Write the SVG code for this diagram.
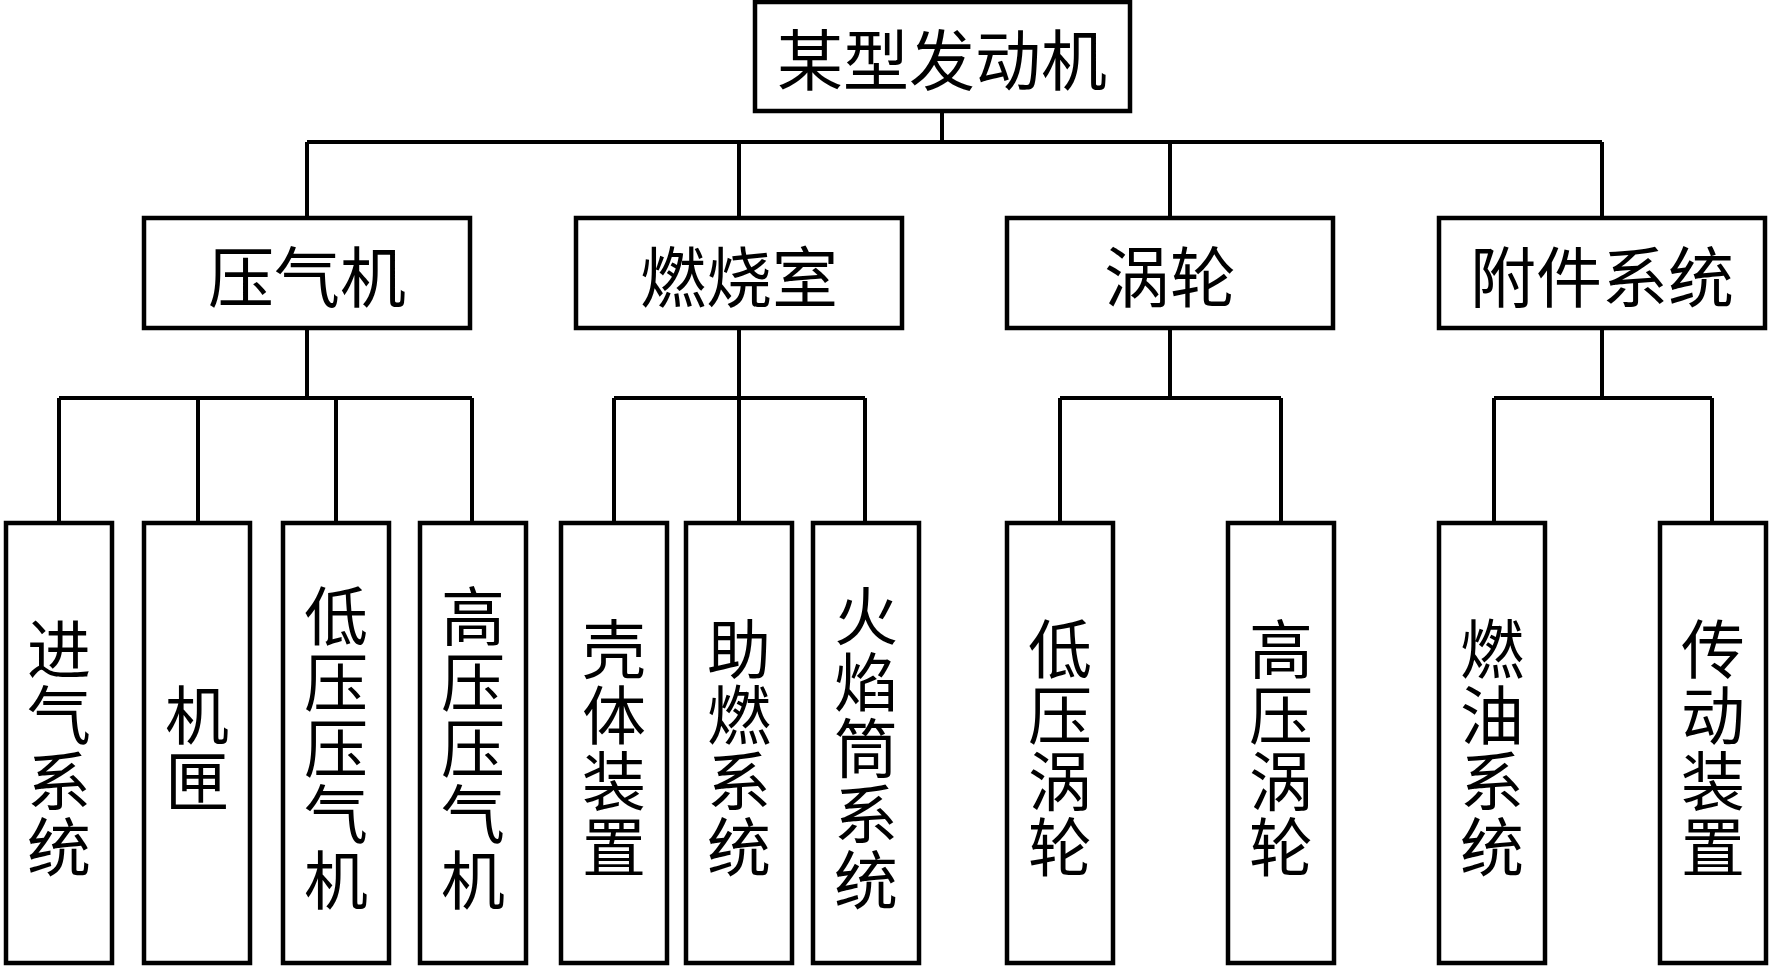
<svg xmlns="http://www.w3.org/2000/svg" width="1772" height="968" viewBox="0 0 1772 968">
<style>
.box{fill:#fff;stroke:#000;stroke-width:4.5}
.ln{fill:none;stroke:#000;stroke-width:4}
.t{font-family:"Noto Sans CJK SC","Noto Sans CJK JP",sans-serif;font-size:66px;fill:#000;text-anchor:middle;dominant-baseline:central}
.v{font-family:"Noto Sans CJK SC","Noto Sans CJK JP",sans-serif;font-size:64px;fill:#000;text-anchor:middle;writing-mode:vertical-rl;letter-spacing:2px}
</style>
<rect width="1772" height="968" fill="#fff"/>
<g id="connectors">
<path class="ln" d="M942 111V142M307 142H1602M307 142V218M739 142V218M1170 142V218M1602 142V218"/>
<path class="ln" d="M307 328V398M59 398H472M59 398V523M198 398V523M336 398V523M472 398V523"/>
<path class="ln" d="M739 328V398M614 398H865M614 398V523M739 398V523M865 398V523"/>
<path class="ln" d="M1170 328V398M1060 398H1281M1060 398V523M1281 398V523"/>
<path class="ln" d="M1602 328V398M1494 398H1712M1494 398V523M1712 398V523"/>
</g>
<g id="root"><rect class="box" x="755" y="2" width="375" height="109"/><text class="t" x="942" y="56">某型发动机</text></g>
<g id="n_compressor"><rect class="box" x="144" y="218" width="326" height="110"/><text class="t" x="307" y="273">压气机</text></g>
<g id="n_combustor"><rect class="box" x="576" y="218" width="326" height="110"/><text class="t" x="739" y="273">燃烧室</text></g>
<g id="n_turbine"><rect class="box" x="1007" y="218" width="326" height="110"/><text class="t" x="1170" y="273">涡轮</text></g>
<g id="n_accessory"><rect class="box" x="1439" y="218" width="326" height="110"/><text class="t" x="1602" y="273">附件系统</text></g>
<g id="l_intake"><rect class="box" x="6" y="523" width="106" height="440"/><text class="v" x="59" y="749">进气系统</text></g>
<g id="l_casing"><rect class="box" x="144" y="523" width="106" height="440"/><text class="v" x="197" y="749">机匣</text></g>
<g id="l_lpc"><rect class="box" x="283" y="523" width="106" height="440"/><text class="v" x="336" y="749">低压压气机</text></g>
<g id="l_hpc"><rect class="box" x="420" y="523" width="106" height="440"/><text class="v" x="473" y="749">高压压气机</text></g>
<g id="l_shell"><rect class="box" x="561" y="523" width="106" height="440"/><text class="v" x="614" y="749">壳体装置</text></g>
<g id="l_aux"><rect class="box" x="686" y="523" width="106" height="440"/><text class="v" x="739" y="749">助燃系统</text></g>
<g id="l_liner"><rect class="box" x="813" y="523" width="106" height="440"/><text class="v" x="866" y="749">火焰筒系统</text></g>
<g id="l_lpt"><rect class="box" x="1007" y="523" width="106" height="440"/><text class="v" x="1060" y="749">低压涡轮</text></g>
<g id="l_hpt"><rect class="box" x="1228" y="523" width="106" height="440"/><text class="v" x="1281" y="749">高压涡轮</text></g>
<g id="l_fuel"><rect class="box" x="1439" y="523" width="106" height="440"/><text class="v" x="1492" y="749">燃油系统</text></g>
<g id="l_drive"><rect class="box" x="1660" y="523" width="106" height="440"/><text class="v" x="1713" y="749">传动装置</text></g>
</svg>
